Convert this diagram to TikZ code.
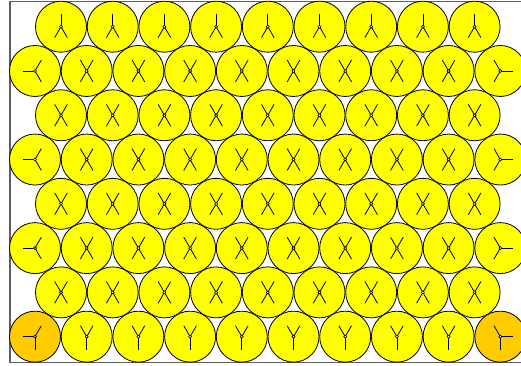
\documentclass[tikz,border=0pt]{standalone}
\definecolor{ballyellow}{RGB}{255,255,0}
\definecolor{ballorange}{RGB}{255,204,0}
\definecolor{framegray}{RGB}{95,95,95}
\tikzset{
  ball/.style={circle, draw=black, line width=0.8pt, fill=ballyellow, minimum size=51pt, inner sep=0pt},
  cornerball/.style={ball, fill=ballorange},
  bond/.style={line width=0.8pt, draw=black},
  hub/.style={circle, draw=black, fill=white, line width=0.6pt, minimum size=3pt, inner sep=0pt},
  frameline/.style={draw=framegray, line width=1.3pt}
}
\newcommand\bondto[3]{\draw[bond] (#1.center) -- ++(#2,#3);}
\newcommand\hubat[1]{\node[hub] (#1h) at (#1.center) {};}
\newcommand\glX[1]{\bondto{#1}{-6.3}{-10.9}\bondto{#1}{6.3}{-10.9}\bondto{#1}{-6.3}{10.9}\bondto{#1}{6.3}{10.9}\hubat{#1}}
\newcommand\glTop[1]{\bondto{#1}{0}{-13}\bondto{#1}{-6.3}{10.9}\bondto{#1}{6.3}{10.9}\hubat{#1}}
\newcommand\glBot[1]{\bondto{#1}{0}{13}\bondto{#1}{-6.3}{-10.9}\bondto{#1}{6.3}{-10.9}\hubat{#1}}
\newcommand\glLeft[1]{\bondto{#1}{-12.5}{0}\bondto{#1}{6.3}{-10.9}\bondto{#1}{6.3}{10.9}\hubat{#1}}
\newcommand\glRight[1]{\bondto{#1}{12.5}{0}\bondto{#1}{-6.3}{-10.9}\bondto{#1}{-6.3}{10.9}\hubat{#1}}
\newcommand\glCornerL[1]{\bondto{#1}{-12.5}{0}\bondto{#1}{6.3}{-10.9}\bondto{#1}{0}{13}\hubat{#1}}
\newcommand\glCornerR[1]{\bondto{#1}{12.5}{0}\bondto{#1}{-6.3}{-10.9}\bondto{#1}{0}{13}\hubat{#1}}
\begin{document}
\begin{tikzpicture}[x=1pt,y=-1pt]
\useasboundingbox (0,0) rectangle (521,366);
\clip (0,0) rectangle (521,366);
\draw[frameline] (10,1.5) rectangle (528,362.5);
% rows with 9 balls (r = 0,2,4,6)
\foreach \r in {0,2,4,6}{
  \foreach \c in {0,...,8}{
    \pgfmathsetmacro\px{61+\c*51.7}
    \pgfmathsetmacro\py{26.7+\r*44.28}
    \node[ball] (b\r-\c) at (\px,\py) {};
    \ifnum\r=0 \glTop{b\r-\c}\else \glX{b\r-\c}\fi
  }
}
% rows with 10 balls (r = 1,3,5)
\foreach \r in {1,3,5}{
  \foreach \c in {0,...,9}{
    \pgfmathsetmacro\px{35+\c*51.7}
    \pgfmathsetmacro\py{26.7+\r*44.28}
    \node[ball] (b\r-\c) at (\px,\py) {};
    \ifnum\c=0 \glLeft{b\r-\c}\else\ifnum\c=9 \glRight{b\r-\c}\else \glX{b\r-\c}\fi\fi
  }
}
% bottom row
\foreach \c in {0,...,9}{
  \pgfmathsetmacro\px{35+\c*51.7}
  \pgfmathsetmacro\py{26.7+7*44.28}
  \ifnum\c=0
    \node[cornerball] (b7-\c) at (\px,\py) {};
    \glCornerL{b7-\c}
  \else\ifnum\c=9
    \node[cornerball] (b7-\c) at (\px,\py) {};
    \glCornerR{b7-\c}
  \else
    \node[ball] (b7-\c) at (\px,\py) {};
    \glBot{b7-\c}
  \fi\fi
}
\end{tikzpicture}
\end{document}
